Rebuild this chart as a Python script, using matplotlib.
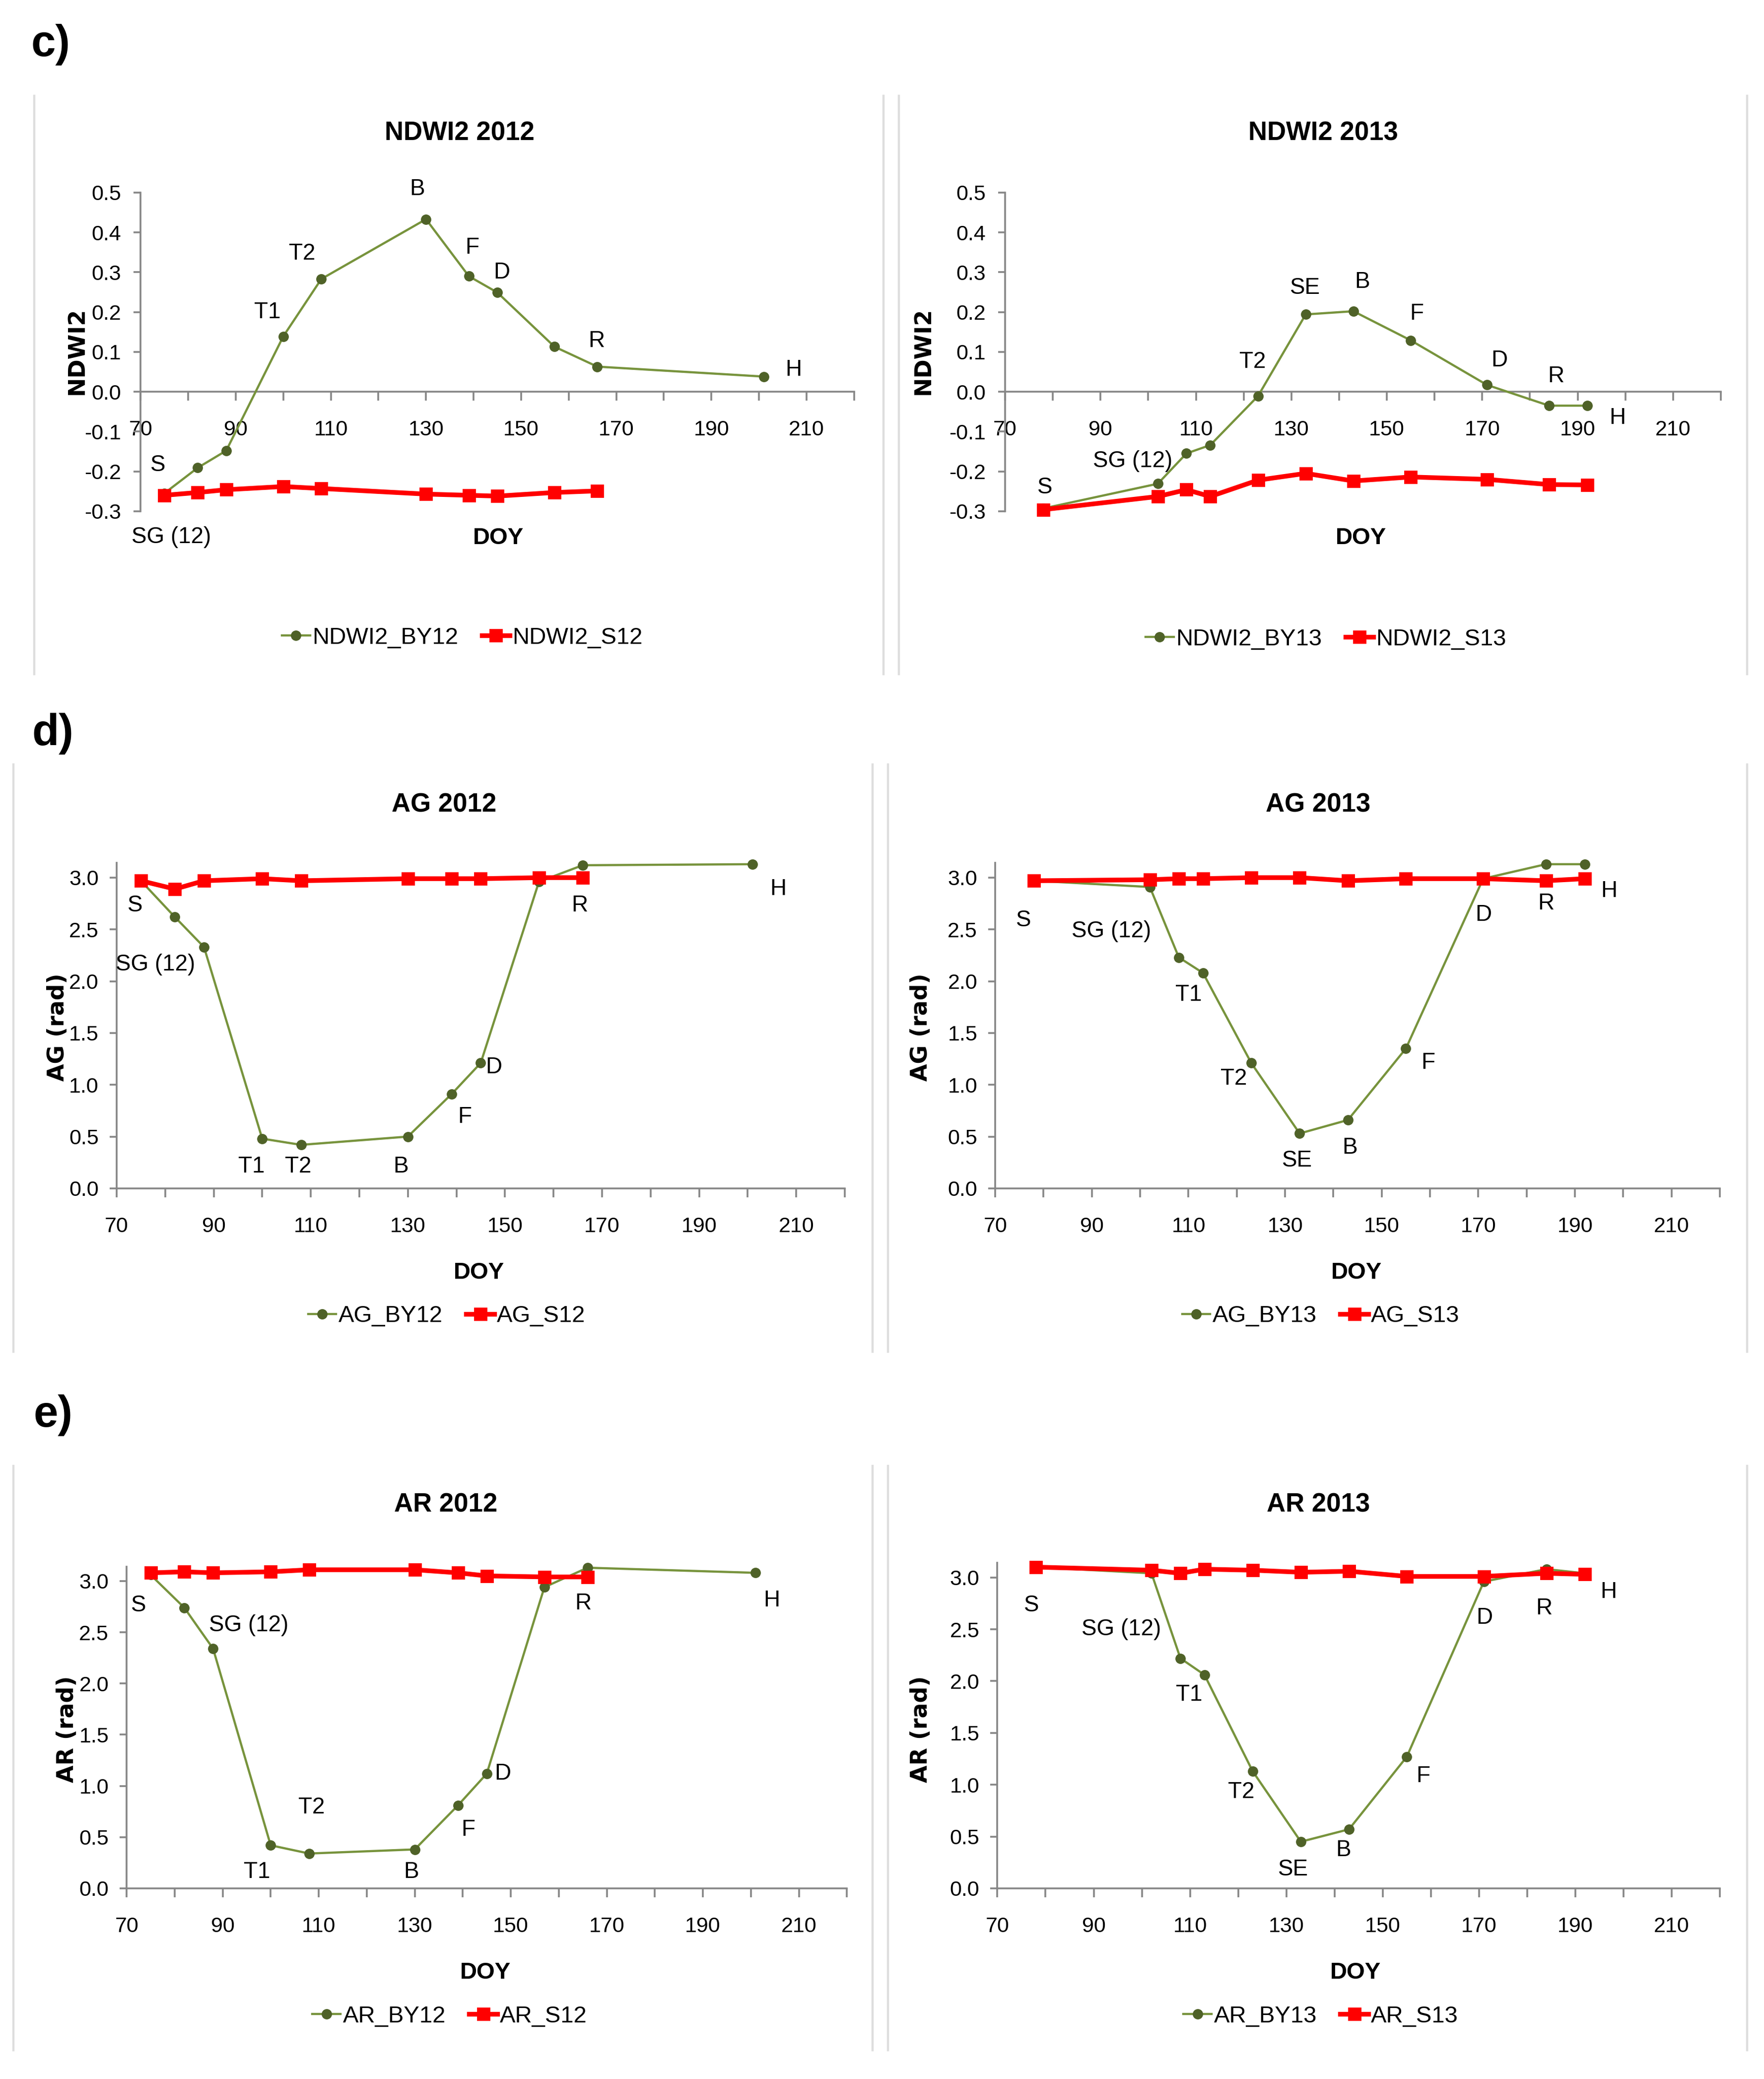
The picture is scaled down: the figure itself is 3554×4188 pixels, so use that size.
import matplotlib
matplotlib.use('Agg')
import matplotlib.pyplot as plt
from matplotlib.lines import Line2D
from matplotlib.ticker import MultipleLocator, FormatStrFormatter
import numpy as np

plt.rcParams['font.family'] = ['Liberation Sans', 'DejaVu Sans']
plt.rcParams['axes.unicode_minus'] = False

# ---------------- data ----------------
doy_2012 = [75, 82, 88, 100, 108, 130, 139, 145, 157, 166, 201]
doy_2013 = [78, 102, 108, 113, 123, 133, 143, 155, 171, 184, 192]

ndwi2_by12 = [-0.255, -0.191, -0.148, 0.139, 0.283, 0.433, 0.290, 0.249, 0.113, 0.063, 0.038]
ndwi2_s12 = [-0.260, -0.253, -0.246, -0.238, -0.243, -0.257, -0.260, -0.262, -0.253, -0.249]
ndwi2_by13 = [-0.293, -0.231, -0.155, -0.134, -0.011, 0.194, 0.202, 0.129, 0.017, -0.035, -0.035]
ndwi2_s13 = [-0.296, -0.263, -0.246, -0.263, -0.222, -0.205, -0.224, -0.214, -0.220, -0.233, -0.234]

ag_by12 = [2.97, 2.62, 2.33, 0.48, 0.42, 0.50, 0.91, 1.21, 2.96, 3.12, 3.13]
ag_s12 = [2.97, 2.89, 2.97, 2.99, 2.97, 2.99, 2.99, 2.99, 3.00, 3.00]
ag_by13 = [2.97, 2.91, 2.23, 2.08, 1.21, 0.53, 0.66, 1.35, 2.99, 3.13, 3.13]
ag_s13 = [2.97, 2.98, 2.99, 2.99, 3.00, 3.00, 2.97, 2.99, 2.99, 2.97, 2.99]

ar_by12 = [3.06, 2.74, 2.34, 0.42, 0.34, 0.38, 0.81, 1.12, 2.94, 3.13, 3.08]
ar_s12 = [3.08, 3.09, 3.08, 3.09, 3.11, 3.11, 3.08, 3.05, 3.04, 3.04]
ar_by13 = [3.10, 3.04, 2.22, 2.06, 1.13, 0.45, 0.57, 1.27, 2.96, 3.08, 3.04]
ar_s13 = [3.10, 3.07, 3.04, 3.08, 3.07, 3.05, 3.06, 3.01, 3.01, 3.04, 3.03]

x_ticks = [70, 90, 110, 130, 150, 170, 190, 210]

# phenological stage labels (text, x, y) in data units
labels_ndwi12 = [('S', 73.6, -0.184), ('SG (12)', 76.5, -0.365), ('T1', 96.7, 0.199), ('T2', 104, 0.347),
                 ('B', 128.2, 0.508), ('F', 139.7, 0.361), ('D', 145.9, 0.299), ('R', 165.8, 0.127),
                 ('H', 207.3, 0.055)]
labels_ndwi13 = [('S', 78.3, -0.241), ('SG (12)', 96.7, -0.174), ('T2', 121.9, 0.075), ('SE', 132.9, 0.261),
                 ('B', 144.9, 0.275), ('F', 156.3, 0.196), ('D', 173.6, 0.079), ('R', 185.5, 0.039),
                 ('H', 198.3, -0.066)]
labels_ag12 = [('S', 73.8, 2.73), ('SG (12)', 78, 2.16), ('T1', 97.8, 0.21), ('T2', 107.4, 0.21),
               ('B', 128.5, 0.21), ('F', 141.7, 0.69), ('D', 147.7, 1.17), ('R', 165.4, 2.73),
               ('H', 206.3, 2.89)]
labels_ag13 = [('S', 75.9, 2.59), ('SG (12)', 94, 2.48), ('T1', 110, 1.87), ('T2', 119.4, 1.06),
               ('SE', 132.5, 0.27), ('B', 143.4, 0.39), ('F', 159.6, 1.21), ('D', 171.1, 2.64),
               ('R', 184, 2.75), ('H', 197.1, 2.87)]
labels_ar12 = [('S', 72.5, 2.76), ('SG (12)', 95.4, 2.57), ('T2', 108.5, 0.79), ('T1', 97.1, 0.16),
               ('B', 129.3, 0.16), ('F', 141.1, 0.57), ('D', 148.3, 1.12), ('R', 165.1, 2.78),
               ('H', 204.3, 2.81)]
labels_ar13 = [('S', 77.1, 2.73), ('SG (12)', 95.7, 2.50), ('T1', 109.8, 1.87), ('T2', 120.6, 0.93),
               ('SE', 131.4, 0.18), ('B', 141.8, 0.37), ('F', 158.4, 1.08), ('D', 171.1, 2.61),
               ('R', 183.5, 2.70), ('H', 196.9, 2.86)]

# ---------------- style ----------------
GREEN_LINE = '#77933C'
GREEN_MARK = '#4F6228'
RED = '#FF0000'
AXIS_GRAY = '#868686'
FRAME_GRAY = '#DEDEDE'

fig = plt.figure(figsize=(17.77, 20.94), dpi=200)

panels = [
    dict(rect=[0.0797, 0.7541, 0.4045, 0.1533], title='NDWI2 2012', title_xy=(0.2605, 0.936),
         ylabel='NDWI2', ylab_xy=(0.0436, 0.8312), doy_xy=(0.2825, 0.7412), leg_xy=(0.262, 0.6932),
         x1=doy_2012, y1=ndwi2_by12, x2=doy_2012[:len(ndwi2_s12)], y2=ndwi2_s12,
         n1='NDWI2_BY12', n2='NDWI2_S12', labels=labels_ndwi12, kind='ndwi'),
    dict(rect=[0.5698, 0.7541, 0.4057, 0.1533], title='NDWI2 2013', title_xy=(0.750, 0.936),
         ylabel='NDWI2', ylab_xy=(0.5234, 0.8312), doy_xy=(0.7715, 0.7412), leg_xy=(0.7516, 0.6925),
         x1=doy_2013, y1=ndwi2_by13, x2=doy_2013, y2=ndwi2_s13,
         n1='NDWI2_BY13', n2='NDWI2_S13', labels=labels_ndwi13, kind='ndwi'),
    dict(rect=[0.0661, 0.4284, 0.4128, 0.1565], title='AG 2012', title_xy=(0.2518, 0.6128),
         ylabel='AG (rad)', ylab_xy=(0.0328, 0.506), doy_xy=(0.2714, 0.3878), leg_xy=(0.2532, 0.3669),
         x1=doy_2012, y1=ag_by12, x2=doy_2012[:len(ag_s12)], y2=ag_s12,
         n1='AG_BY12', n2='AG_S12', labels=labels_ag12, kind='ang'),
    dict(rect=[0.5642, 0.4284, 0.4108, 0.1565], title='AG 2013', title_xy=(0.7473, 0.6128),
         ylabel='AG (rad)', ylab_xy=(0.522, 0.506), doy_xy=(0.7690, 0.3878), leg_xy=(0.7487, 0.3669),
         x1=doy_2013, y1=ag_by13, x2=doy_2013, y2=ag_s13,
         n1='AG_BY13', n2='AG_S13', labels=labels_ag13, kind='ang'),
    dict(rect=[0.0718, 0.0917, 0.4083, 0.1548], title='AR 2012', title_xy=(0.2527, 0.2761),
         ylabel='AR (rad)', ylab_xy=(0.038, 0.1683), doy_xy=(0.2752, 0.0511), leg_xy=(0.2549, 0.0302),
         x1=doy_2012, y1=ar_by12, x2=doy_2012[:len(ar_s12)], y2=ar_s12,
         n1='AR_BY12', n2='AR_S12', labels=labels_ar12, kind='ang'),
    dict(rect=[0.5654, 0.0917, 0.4096, 0.1566], title='AR 2013', title_xy=(0.7473, 0.2761),
         ylabel='AR (rad)', ylab_xy=(0.522, 0.1683), doy_xy=(0.7685, 0.0511), leg_xy=(0.7487, 0.0302),
         x1=doy_2013, y1=ar_by13, x2=doy_2013, y2=ar_s13,
         n1='AR_BY13', n2='AR_S13', labels=labels_ar13, kind='ang'),
]

TICK_FS = 15.5
ANN_FS = 16.5

for p in panels:
    ax = fig.add_axes(p['rect'])
    ax.set_facecolor('none')
    l1, = ax.plot(p['x1'], p['y1'], color=GREEN_LINE, lw=1.6, marker='o', ms=6.5,
                  mfc=GREEN_MARK, mec=GREEN_MARK, label=p['n1'], clip_on=False, zorder=3)
    l2, = ax.plot(p['x2'], p['y2'], color=RED, lw=3.4, marker='s', ms=8.5,
                  mfc=RED, mec=RED, label=p['n2'], clip_on=False, zorder=4)
    ax.set_xlim(70, 220)
    if p['kind'] == 'ndwi':
        ax.set_ylim(-0.3, 0.5)
        ax.spines['bottom'].set_position(('data', 0))
        ax.yaxis.set_major_locator(MultipleLocator(0.1))
        ypad = 9
    else:
        ax.set_ylim(0, np.pi)
        ax.set_yticks(np.arange(0, 3.01, 0.5))
        ypad = 8
    ax.yaxis.set_major_formatter(FormatStrFormatter('%.1f'))
    ax.set_xticks(x_ticks)
    ax.xaxis.set_minor_locator(MultipleLocator(10))
    for s in ['top', 'right']:
        ax.spines[s].set_visible(False)
    for s in ['left', 'bottom']:
        ax.spines[s].set_color(AXIS_GRAY)
        ax.spines[s].set_linewidth(1.3)
    ax.tick_params(axis='x', which='both', direction='out', length=6.5, width=1.3,
                   color=AXIS_GRAY, labelsize=TICK_FS, pad=14)
    ax.tick_params(axis='y', which='both', direction='out', length=5, width=1.3,
                   color=AXIS_GRAY, labelsize=TICK_FS, pad=ypad)
    for t, x, y in p['labels']:
        ax.text(x, y, t, fontsize=ANN_FS, ha='center', va='center', clip_on=False)
    fig.text(*p['title_xy'], p['title'], fontsize=19, fontweight='bold', ha='center', va='center')
    fig.text(*p['ylab_xy'], p['ylabel'], fontsize=16.5, fontweight='bold', rotation=90,
             ha='center', va='center', family='DejaVu Sans')
    fig.text(*p['doy_xy'], 'DOY', fontsize=17, fontweight='bold', ha='center', va='center')
    fig.legend(handles=[l1, l2], loc='center', bbox_to_anchor=p['leg_xy'], ncol=2, frameon=False,
               fontsize=17, handlelength=1.2, handletextpad=0.1, columnspacing=1.0,
               borderaxespad=0)

# panel letters
for txt, xy in [('c)', (0.0287, 0.9785)), ('d)', (0.030, 0.647)), ('e)', (0.030, 0.3192))]:
    fig.text(*xy, txt, fontsize=32, fontweight='bold', ha='center', va='center')

# chart-area side borders (pixel coordinates of the original layout)
W, H = 3554.0, 4188.0
frames = [
    (69, 193, 1358), (1780, 193, 1358), (1811, 193, 1358), (3520, 193, 1358),
    (27, 1540, 2723), (1758, 1540, 2723), (1789, 1540, 2723), (3520, 1540, 2723),
    (27, 2953, 4130), (1758, 2953, 4130), (1789, 2953, 4130), (3520, 2953, 4130),
]
for x, y0, y1 in frames:
    fig.add_artist(Line2D([x / W, x / W], [1 - y0 / H, 1 - y1 / H], transform=fig.transFigure,
                          color=FRAME_GRAY, lw=1.6))

fig.savefig('out.png', dpi=200, facecolor='white')
